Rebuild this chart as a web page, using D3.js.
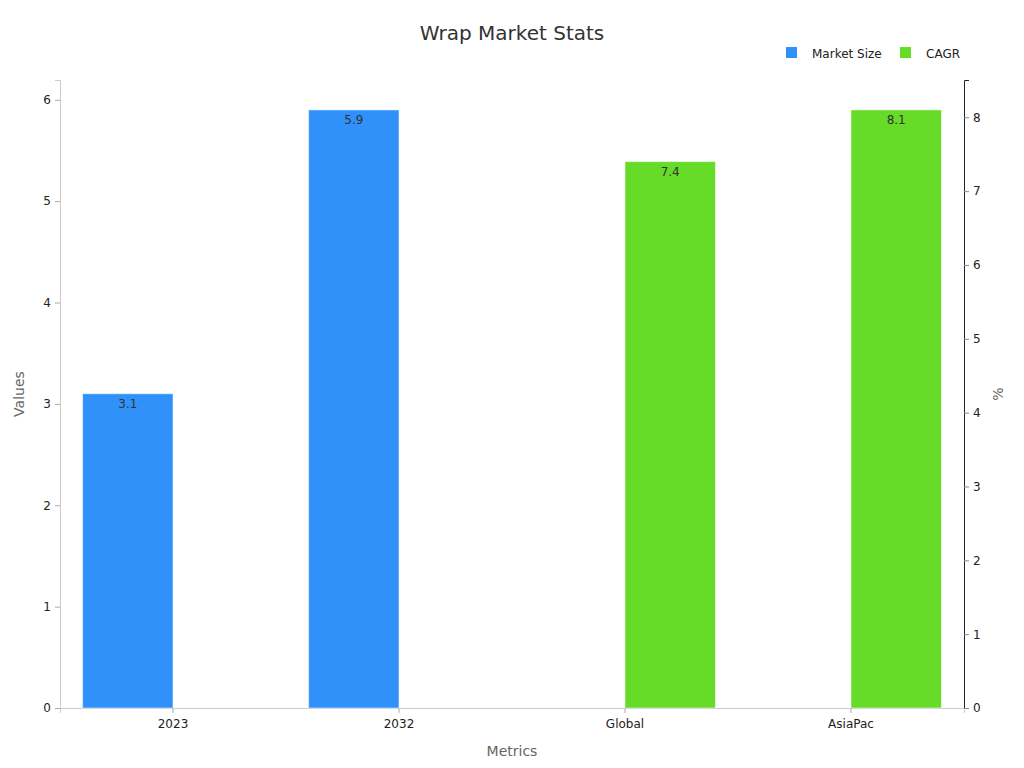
<!DOCTYPE html>
<html><head><meta charset="utf-8">
<script src="https://cdn.jsdelivr.net/npm/d3@7"></script>
<style>body{margin:0;background:#fff;font-family:"DejaVu Sans",sans-serif;}</style>
</head><body>
<svg id="chart" width="1024" height="768"></svg>
<script>
const categories = ["2023", "2032", "Global", "AsiaPac"];
const seriesNames = ["Market Size", "CAGR"];
const marketSize = [3.1, 5.9, null, null];
const cagr = [null, null, 7.4, 8.1];
const colors = ["#3091fa", "#66db28"];

const svg = d3.select("#chart");
const W = 1024, H = 768;
const m = {left: 60, right: 60, top: 80, bottom: 60};
const x0 = d3.scaleBand().domain(categories).range([m.left, W - m.right]).paddingInner(0).paddingOuter(0);
const x1 = d3.scaleBand().domain(seriesNames).range([0, x0.bandwidth()]).paddingOuter(0.25).paddingInner(0);
const yL = d3.scaleLinear().domain([0, d3.max(marketSize) * 1.05]).range([H - m.bottom, m.top]);
const yR = d3.scaleLinear().domain([0, d3.max(cagr) * 1.05]).range([H - m.bottom, m.top]);

// title
svg.append("text").attr("x", 512).attr("y", 40).attr("text-anchor", "middle")
  .attr("font-size", 20).attr("fill", "#333").text("Wrap Market Stats");

// axes
const gx = svg.append("g").attr("transform", `translate(0,${H - m.bottom})`)
  .call(d3.axisBottom(x0).tickSizeOuter(0).tickSize(5).tickPadding(6));
gx.select(".domain").attr("stroke", "#ccc");
gx.selectAll(".tick line").attr("stroke", "#aaa");
gx.selectAll("text").attr("font-size", 12).attr("fill", "#222").attr("font-family", "DejaVu Sans");

const gl = svg.append("g").attr("transform", `translate(${m.left},0)`)
  .call(d3.axisLeft(yL).ticks(6).tickSizeOuter(0).tickSize(5).tickPadding(4));
gl.select(".domain").attr("stroke", "#ccc");
gl.selectAll(".tick line").attr("stroke", "#aaa");
gl.selectAll("text").attr("font-size", 12).attr("fill", "#222").attr("font-family", "DejaVu Sans");

const gr = svg.append("g").attr("transform", `translate(${W - m.right},0)`)
  .call(d3.axisRight(yR).ticks(8).tickSizeOuter(0).tickSize(5).tickPadding(4));
gr.select(".domain").attr("stroke", "#222");
gr.selectAll(".tick line").attr("stroke", "#888");
gr.selectAll("text").attr("font-size", 12).attr("fill", "#222").attr("font-family", "DejaVu Sans");

// axis titles
svg.append("text").attr("x", (m.left + W - m.right) / 2).attr("y", 756).attr("text-anchor", "middle")
  .attr("font-size", 14).attr("fill", "#666").text("Metrics");
svg.append("text").attr("transform", `translate(24,${(m.top + H - m.bottom) / 2}) rotate(-90)`)
  .attr("text-anchor", "middle").attr("font-size", 14).attr("fill", "#666").text("Values");
svg.append("text").attr("transform", `translate(1003,${(m.top + H - m.bottom) / 2}) rotate(-90)`)
  .attr("text-anchor", "middle").attr("font-size", 14).attr("fill", "#666").text("%");

// bars
const series = [
  {name: seriesNames[0], values: marketSize, y: yL, color: colors[0]},
  {name: seriesNames[1], values: cagr, y: yR, color: colors[1]}
];
series.forEach(s => {
  const data = categories.map((c, i) => ({c, v: s.values[i]})).filter(d => d.v != null);
  svg.append("g").selectAll("rect").data(data).join("rect")
    .attr("x", d => x0(d.c) + x1(s.name))
    .attr("y", d => s.y(d.v))
    .attr("width", x1.bandwidth())
    .attr("height", d => s.y(0) - s.y(d.v))
    .attr("fill", s.color)
    .attr("stroke", "rgba(255,255,255,0.5)").attr("stroke-width", 1);
  svg.append("g").selectAll("text").data(data).join("text")
    .attr("x", d => x0(d.c) + x1(s.name) + x1.bandwidth() / 2)
    .attr("y", d => s.y(d.v) + 14)
    .attr("text-anchor", "middle").attr("font-size", 12).attr("fill", "#333")
    .text(d => d.v);
});

// legend
const leg = svg.append("g");
const legX = [786, 900];
seriesNames.forEach((n, i) => {
  leg.append("rect").attr("x", legX[i]).attr("y", 47).attr("width", 11).attr("height", 11).attr("fill", colors[i]);
  leg.append("text").attr("x", legX[i] + 26).attr("y", 57.5).attr("font-size", 12).attr("fill", "#222").text(n);
});
</script>
</body></html>
